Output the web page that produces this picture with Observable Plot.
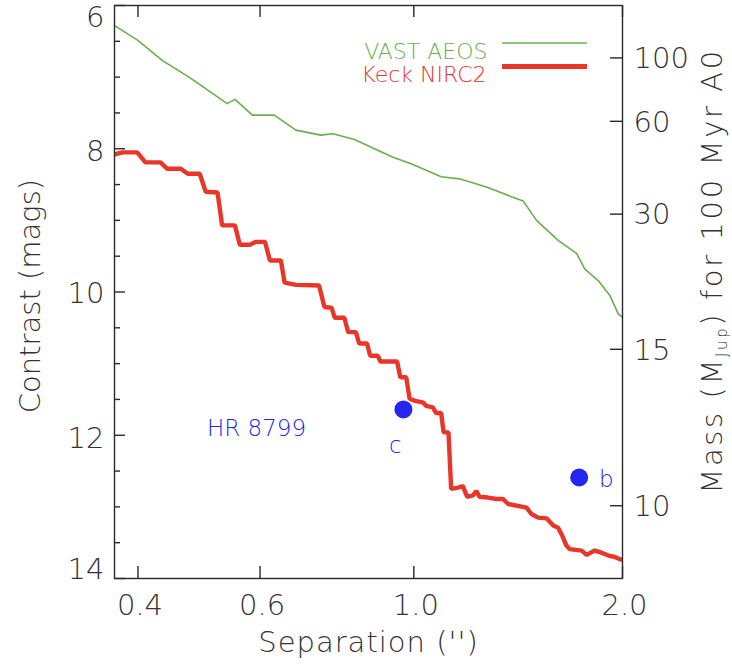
<!DOCTYPE html>
<html>
<head>
<meta charset="utf-8">
<script src="https://cdn.jsdelivr.net/npm/d3@7"></script>
<script src="https://cdn.jsdelivr.net/npm/@observablehq/plot@0.6"></script>
<style>
  html, body { margin: 0; padding: 0; background: #fff; }
  #chart svg { display: block; }
</style>
</head>
<body>
<div id="chart"></div>
<script>
// ---- data ----
const vastSep = [0.370,0.399,0.434,0.474,0.538,0.552,0.585,0.629,0.676,0.734,0.764,0.821,0.933,0.991,1.095,1.164,1.279,1.383,1.438,1.503,1.615,1.717,1.765,1.845,1.918,1.973,2.0];
const vastContrast = [6.28,6.48,6.77,7.00,7.37,7.31,7.53,7.53,7.74,7.81,7.79,7.87,8.12,8.21,8.39,8.42,8.54,8.67,8.73,9.00,9.28,9.46,9.68,9.84,10.05,10.31,10.35];

const keckSep = [0.370,0.380,0.399,0.410,0.431,0.441,0.461,0.472,0.491,0.501,0.521,0.529,0.552,0.561,0.580,0.592,0.610,0.620,0.643,0.651,0.676,0.730,0.743,0.761,0.769,0.794,0.804,0.825,0.834,0.856,0.865,0.887,0.895,0.946,0.956,0.975,0.986,1.004,1.030,1.042,1.065,1.077,1.095,1.104,1.122,1.132,1.158,1.177,1.194,1.217,1.231,1.244,1.279,1.315,1.345,1.368,1.454,1.478,1.511,1.554,1.589,1.615,1.637,1.660,1.679,1.746,1.775,1.824,1.865,1.909,1.950,1.983,2.0];
const keckContrast = [8.08,8.05,8.05,8.19,8.19,8.28,8.28,8.35,8.35,8.60,8.61,9.07,9.07,9.34,9.34,9.30,9.30,9.56,9.56,9.87,9.90,9.91,10.21,10.22,10.36,10.36,10.56,10.56,10.72,10.72,10.89,10.89,10.97,10.97,11.19,11.19,11.49,11.52,11.54,11.59,11.61,11.69,11.69,11.96,11.96,12.75,12.73,12.71,12.86,12.84,12.78,12.86,12.87,12.89,12.89,12.96,13.01,13.10,13.15,13.16,13.26,13.29,13.40,13.54,13.59,13.61,13.67,13.61,13.64,13.68,13.70,13.73,13.74];

const planetNames = ["c", "b"];
const planetSep = [0.966, 1.732];
const planetContrast = [11.64, 12.59];

const hostName = "HR 8799";
const hostLabelSep = 0.593;
const hostLabelContrast = 11.91;

const xTicks = [0.4, 0.6, 1.0, 2.0];
const xTickLabels = ["0.4", "0.6", "1.0", "2.0"];
const yMajorTicks = [6, 8, 10, 12, 14];
const yMinorTicks = [6.5, 7, 7.5, 8.5, 9, 9.5, 10.5, 11, 11.5, 12.5, 13, 13.5];
const massTickLabels = ["100", "60", "30", "15", "10"];
const massTickContrast = [6.732, 7.617, 8.913, 10.80, 12.984];

const seriesNames = ["VAST AEOS", "Keck NIRC2"];

// ---- tables built from the arrays ----
const vast = vastSep.map((s, i) => ({sep: s, contrast: vastContrast[i]}));
const keck = keckSep.map((s, i) => ({sep: s, contrast: keckContrast[i]}));
const planets = planetNames.map((n, i) => ({name: n, sep: planetSep[i], contrast: planetContrast[i]}));

// ---- styling ----
const W = 732, H = 670;
const ML = 114, MR = 110, MT = 5, MB = 92;
const PW = W - ML - MR, PH = H - MT - MB;
const GREEN = "#68b04c", RED = "#e8362a", BLUE = "#2626ee";
const AXIS = "#2a2a2a", LABEL = "#333333";
const FONT = "'DejaVu Sans', sans-serif";
const WEIGHT = 200;
const TICKFS = 29;

// y tick-label vertical offsets (end labels pulled inside the frame)
const yLabelDy = [12, 3, 2, 3, -9];

const marks = [
  Plot.line(vast, {x: "sep", y: "contrast", stroke: GREEN, strokeWidth: 1.6}),
  Plot.line(keck, {x: "sep", y: "contrast", stroke: RED, strokeWidth: 4.4, strokeLinejoin: "miter", strokeLinecap: "butt"}),
  Plot.dot(planets, {x: "sep", y: "contrast", r: 9, fill: BLUE, stroke: "none"}),
  Plot.text(planets.filter(d => d.name === "c"), {x: "sep", y: "contrast", text: "name", dx: -8, dy: 36, fill: BLUE, fontSize: 23, fontWeight: WEIGHT}),
  Plot.text(planets.filter(d => d.name === "b"), {x: "sep", y: "contrast", text: "name", dx: 27, dy: 2, fill: BLUE, fontSize: 23, fontWeight: WEIGHT}),
  Plot.text([hostName], {x: () => hostLabelSep, y: () => hostLabelContrast, text: d => d, fill: BLUE, fontSize: 23, fontWeight: WEIGHT}),

  // frame and inward ticks
  Plot.frame({stroke: AXIS, strokeWidth: 1.4}),
  Plot.tickY(yMajorTicks, {y: d => d, insetRight: PW - 11, stroke: AXIS, strokeWidth: 1.4}),
  Plot.tickY(yMinorTicks, {y: d => d, insetRight: PW - 6, stroke: AXIS, strokeWidth: 1.4}),
  Plot.tickY(massTickContrast, {y: d => d, insetLeft: PW - 12, stroke: AXIS, strokeWidth: 1.4}),
  Plot.tickX(xTicks, {x: d => d, insetTop: PH - 12, stroke: AXIS, strokeWidth: 1.4}),
  Plot.tickX(xTicks, {x: d => d, insetBottom: PH - 12, stroke: AXIS, strokeWidth: 1.4}),

  // tick labels
  ...yMajorTicks.map((t, i) => Plot.text([t], {y: d => d, frameAnchor: "left", dx: -10, dy: yLabelDy[i], text: d => String(d), textAnchor: "end", fill: LABEL, fontSize: TICKFS, fontWeight: WEIGHT})),
  Plot.text(massTickContrast, {y: d => d, frameAnchor: "right", dx: 11, dy: 1, text: (d, i) => massTickLabels[i], textAnchor: "start", fill: LABEL, fontSize: TICKFS, fontWeight: WEIGHT}),
  Plot.text(xTicks, {x: d => d, frameAnchor: "bottom", dy: 36, dx: 2, text: (d, i) => xTickLabels[i], textAnchor: "middle", fill: LABEL, fontSize: TICKFS, fontWeight: WEIGHT}),

  // axis titles
  Plot.text(["Contrast (mags)"], {frameAnchor: "left", dx: -84, dy: 4, rotate: -90, textAnchor: "middle", text: d => d, fill: LABEL, fontSize: TICKFS, fontWeight: WEIGHT}),
  Plot.text(["Separation ('')"], {frameAnchor: "bottom", dy: 73, textAnchor: "middle", text: d => d, fill: LABEL, fontSize: TICKFS, fontWeight: WEIGHT}),
  Plot.text(["Mass (MJup) for 100 Myr A0"], {frameAnchor: "right", dx: 90, dy: -21, rotate: -90, textAnchor: "middle", text: d => d, fill: LABEL, fontSize: TICKFS, fontWeight: WEIGHT}),

  // legend labels
  Plot.text([seriesNames[0]], {frameAnchor: "top-right", dx: -135, dy: 38, textAnchor: "end", text: d => d, fill: GREEN, fontSize: 22, fontWeight: WEIGHT}),
  Plot.text([seriesNames[1]], {frameAnchor: "top-right", dx: -136, dy: 61, textAnchor: "end", text: d => d, fill: RED, fontSize: 22, fontWeight: WEIGHT})
];

const chart = Plot.plot({
  width: W, height: H,
  marginLeft: ML, marginRight: MR, marginTop: MT, marginBottom: MB,
  style: {fontFamily: FONT, background: "#fff", overflow: "visible"},
  x: {type: "log", domain: [0.37, 2.0], axis: null},
  y: {domain: [6, 14], reverse: true, axis: null},
  marks
});

// wider letter spacing on the titles (stroke-font look) and subscript for the mass title
d3.select(chart).selectAll("text").filter(function() { return this.textContent === "Separation ('')"; })
  .attr("letter-spacing", 1);
d3.select(chart).selectAll("text").filter(function() { return this.textContent === "Mass (MJup) for 100 Myr A0"; })
  .attr("letter-spacing", 2.6)
  .each(function() {
    const t = d3.select(this);
    t.text(null);
    t.append("tspan").text("Mass (M");
    t.append("tspan").attr("font-size", 15).attr("dy", 5).text("Jup");
    t.append("tspan").attr("dy", -5).text(") for 100 Myr A0");
  });

// legend sample lines (top-right of the frame)
const leg = d3.select(chart).append("g");
leg.append("line").attr("x1", W - MR - 120).attr("x2", W - MR - 35).attr("y1", MT + 38).attr("y2", MT + 38)
  .attr("stroke", GREEN).attr("stroke-width", 1.6);
leg.append("line").attr("x1", W - MR - 120).attr("x2", W - MR - 35).attr("y1", MT + 61.5).attr("y2", MT + 61.5)
  .attr("stroke", RED).attr("stroke-width", 5);

document.getElementById("chart").append(chart);
</script>
</body>
</html>
